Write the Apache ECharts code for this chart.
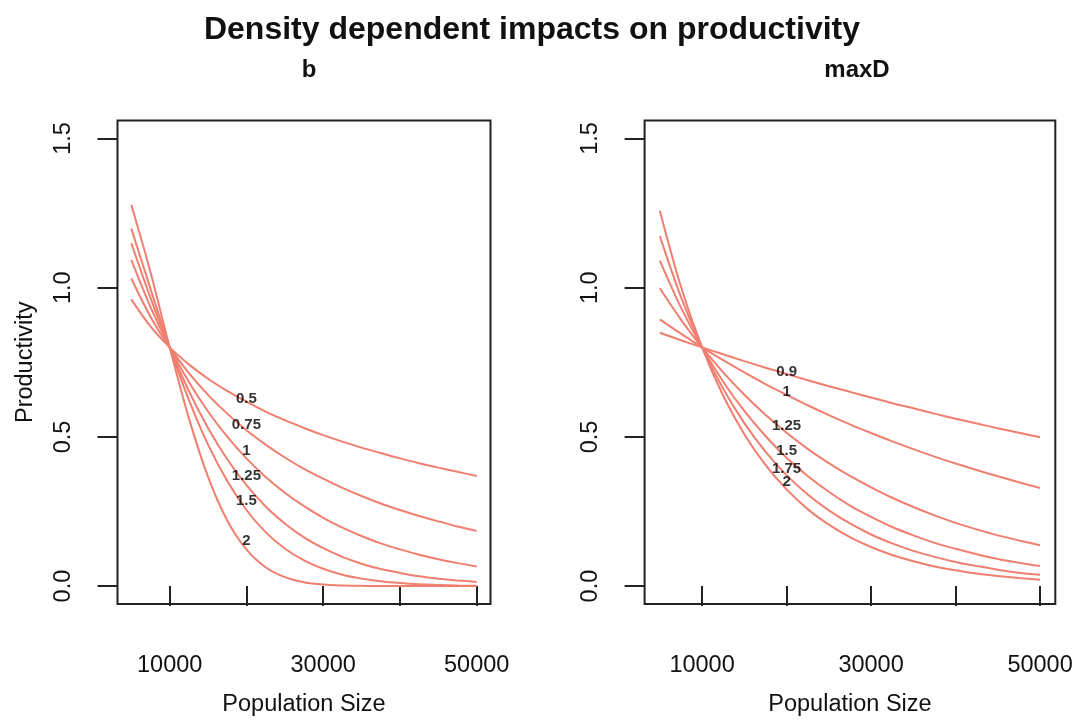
<!DOCTYPE html>
<html><head><meta charset="utf-8">
<script src="https://cdn.jsdelivr.net/npm/echarts@6/dist/echarts.min.js"></script>
<style>html,body{margin:0;padding:0;background:#fff}#c{width:1081px;height:722px}</style>
</head><body><div id="c"></div>
<script>
// Population size sampled along the x axis (even spacing)
const popSize = [5000,7500,10000,12500,15000,17500,20000,22500,25000,27500,30000,32500,35000,37500,40000,42500,45000,47500,50000];

// Left panel: parameter b
const b_0_5  = [0.961,0.870,0.800,0.743,0.695,0.654,0.618,0.585,0.556,0.530,0.506,0.484,0.464,0.446,0.428,0.412,0.397,0.383,0.369];
const b_0_75 = [1.031,0.903,0.800,0.714,0.641,0.578,0.522,0.474,0.431,0.393,0.360,0.329,0.302,0.277,0.255,0.235,0.217,0.200,0.185];
const b_1    = [1.093,0.935,0.800,0.684,0.585,0.501,0.428,0.366,0.313,0.268,0.229,0.196,0.168,0.143,0.123,0.105,0.090,0.077,0.066];
const b_1_25 = [1.149,0.966,0.800,0.654,0.530,0.425,0.338,0.267,0.210,0.163,0.127,0.098,0.075,0.057,0.044,0.033,0.025,0.019,0.014];
const b_1_5  = [1.198,0.996,0.800,0.624,0.474,0.352,0.255,0.181,0.126,0.086,0.058,0.038,0.025,0.016,0.010,0.006,0.004,0.002,0.001];
const b_2    = [1.278,1.052,0.800,0.563,0.366,0.220,0.123,0.063,0.030,0.013,0.005,0.002,0.001,0.000,0.000,0.000,0.000,0.000,0.000];

// Right panel: parameter maxD
const maxD_0_9  = [0.849,0.824,0.800,0.777,0.754,0.732,0.711,0.690,0.670,0.651,0.632,0.613,0.596,0.578,0.561,0.545,0.529,0.514,0.499];
const maxD_1    = [0.894,0.846,0.800,0.757,0.716,0.677,0.641,0.606,0.573,0.542,0.513,0.485,0.459,0.434,0.411,0.389,0.368,0.348,0.329];
const maxD_1_25 = [0.998,0.893,0.800,0.716,0.641,0.574,0.514,0.460,0.412,0.369,0.331,0.296,0.265,0.237,0.212,0.190,0.170,0.153,0.137];
const maxD_1_5  = [1.091,0.934,0.800,0.685,0.587,0.503,0.430,0.369,0.316,0.270,0.232,0.198,0.170,0.145,0.125,0.107,0.091,0.078,0.067];
const maxD_1_75 = [1.173,0.969,0.800,0.661,0.546,0.451,0.372,0.307,0.254,0.210,0.173,0.143,0.118,0.098,0.081,0.067,0.055,0.045,0.038];
const maxD_2    = [1.258,1.003,0.800,0.638,0.509,0.406,0.324,0.258,0.206,0.164,0.131,0.104,0.083,0.066,0.053,0.042,0.034,0.027,0.021];

// Curve annotations (placed at x = labelX)
const labelX = 20000;
const bLabelText = ['0.5','0.75','1','1.25','1.5','2'];
const bLabelY    = [0.627,0.541,0.453,0.368,0.287,0.151];
const maxDLabelText = ['0.9','1','1.25','1.5','1.75','2'];
const maxDLabelY    = [0.718,0.652,0.536,0.453,0.394,0.350];

// Axis ticks
const xTicks = [10000,20000,30000,40000,50000];
const xTickLabels = [10000,30000,50000];
const yTicks = [0,0.5,1,1.5];

const FONT = '"Liberation Sans", Arial, Helvetica, sans-serif';
const LINE = '#F07F70';
const INK = '#111';

const chart = echarts.init(document.getElementById('c'), null, {renderer:'canvas'});

function xAxisDef(gi){
  return {
    gridIndex: gi, type:'value', min:3200, max:51800,
    splitLine:{show:false}, axisLine:{show:false},
    axisTick:{show:true, customValues:xTicks, length:20, inside:false, lineStyle:{color:'#222', width:2}},
    axisLabel:{show:true, customValues:xTickLabels, margin:50, fontSize:23.5, color:INK, fontFamily:FONT,
      formatter: v => String(Math.round(v))},
    name:'Population Size', nameLocation:'middle', nameGap:89,
    nameTextStyle:{fontSize:23.5, color:INK, fontFamily:FONT}
  };
}
function yAxisDef(gi, withName){
  const a = {
    gridIndex: gi, type:'value', min:-0.06, max:1.56,
    splitLine:{show:false}, axisLine:{show:false},
    axisTick:{show:true, customValues:yTicks, length:20, inside:false, lineStyle:{color:'#222', width:2}},
    axisLabel:{show:true, customValues:yTicks, rotate:90, margin:42, fontSize:23.5, color:INK, fontFamily:FONT,
      formatter: v => Number(v).toFixed(1)}
  };
  if (withName){
    a.name = 'Productivity'; a.nameLocation = 'middle'; a.nameGap = 80; a.nameRotate = 90;
    a.nameTextStyle = {fontSize:23.5, color:INK, fontFamily:FONT};
  }
  return a;
}
function lineSeries(arr, gi){
  return {
    type:'line', xAxisIndex:gi, yAxisIndex:gi, showSymbol:false, symbol:'none',
    smooth:0.3,
    lineStyle:{color:LINE, width:2}, data: popSize.map((x,i)=>[x, arr[i]]), z:2
  };
}
function labelSeries(texts, ys, gi){
  return {
    type:'scatter', xAxisIndex:gi, yAxisIndex:gi, symbol:'circle', symbolSize:1,
    itemStyle:{color:'rgba(0,0,0,0)'}, z:5,
    label:{show:true, position:'inside', formatter:p=>p.data[2], fontSize:15, fontWeight:'bold',
      color:'#000', textBorderWidth:0, fontFamily:FONT},
    data: texts.map((t,i)=>[labelX, ys[i], t])
  };
}

const option = {
  backgroundColor:'#fff',
  animation:false,
  title:[
    {text:'Density dependent impacts on productivity', left:527, top:9, textAlign:'center',
      textStyle:{fontSize:32, fontWeight:'bold', color:INK, fontFamily:FONT}},
    {text:'b', left:304, top:53, textAlign:'center', textStyle:{fontSize:24, fontWeight:'bold', color:INK, fontFamily:FONT}},
    {text:'maxD', left:852, top:53, textAlign:'center', textStyle:{fontSize:24, fontWeight:'bold', color:INK, fontFamily:FONT}}
  ],
  grid:[
    {left:117.5, top:120.6, width:373, height:487, show:true, borderColor:'#222', borderWidth:2, backgroundColor:'rgba(0,0,0,0)'},
    {left:644.6, top:120.6, width:410.7, height:487, show:true, borderColor:'#222', borderWidth:2, backgroundColor:'rgba(0,0,0,0)'}
  ],
  xAxis:[xAxisDef(0), xAxisDef(1)],
  yAxis:[yAxisDef(0,true), yAxisDef(1,false)],
  series:[
    lineSeries(b_0_5,0), lineSeries(b_0_75,0), lineSeries(b_1,0), lineSeries(b_1_25,0), lineSeries(b_1_5,0), lineSeries(b_2,0),
    lineSeries(maxD_0_9,1), lineSeries(maxD_1,1), lineSeries(maxD_1_25,1), lineSeries(maxD_1_5,1), lineSeries(maxD_1_75,1), lineSeries(maxD_2,1),
    labelSeries(bLabelText, bLabelY, 0),
    labelSeries(maxDLabelText, maxDLabelY, 1)
  ]
};
chart.setOption(option);
</script></body></html>
